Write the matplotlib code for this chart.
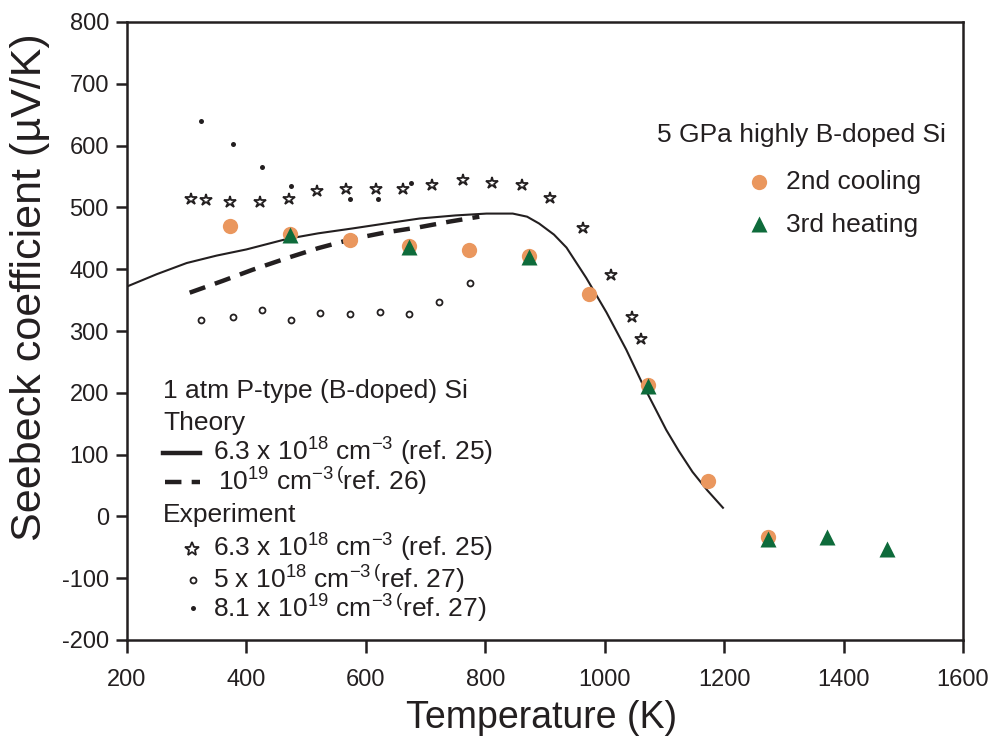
import matplotlib
matplotlib.use("Agg")
import matplotlib.pyplot as plt
from matplotlib.lines import Line2D

plt.rcParams['font.family'] = ['Liberation Sans', 'DejaVu Sans']
plt.rcParams['mathtext.fontset'] = 'custom'
plt.rcParams['mathtext.rm'] = 'Liberation Sans'
plt.rcParams['mathtext.it'] = 'Liberation Sans:italic'
plt.rcParams['mathtext.bf'] = 'Liberation Sans:bold'
plt.rcParams['axes.unicode_minus'] = False

# ---------------- data ----------------
# 5 GPa, 2nd cooling
cool_T = [373, 473, 573, 673, 773, 873, 973, 1073, 1173, 1273]
cool_S = [470, 457, 447, 438, 431, 422, 360, 212, 57, -33]
# 5 GPa, 3rd heating
heat_T = [473, 673, 873, 1073, 1273, 1373, 1473]
heat_S = [455, 436, 420, 211, -36, -33, -52]
# Theory 6.3e18 (ref. 25)
th1_T = [200, 250, 300, 350, 400, 468, 520, 578, 640, 690, 750, 802, 846, 870, 890, 915, 936,
         969, 1003, 1036, 1063, 1086, 1103, 1124, 1147, 1172, 1198]
th1_S = [372, 392, 410, 422, 432, 449, 458, 466, 475, 482, 487, 490, 490, 485, 474, 456, 435,
         386, 330, 270, 215, 172, 140, 106, 72, 42, 14]
# Theory 1e19 (ref. 26)
th2_T = [305, 360, 410, 468, 520, 578, 630, 690, 740, 790]
th2_S = [362, 381, 399, 418, 434, 449, 459, 468, 477, 485]
# Experiment 6.3e18 (ref. 25)
star_T = [307, 332, 372, 422, 471, 518, 566, 617, 663, 710, 762, 811, 861, 909, 963, 1010, 1045, 1061]
star_S = [514, 512, 508, 508, 514, 526, 529, 529, 529, 537, 544, 539, 537, 516, 467, 391, 323, 287]
# Experiment 5e18 (ref. 27)
oc_T = [324, 377, 426, 474, 524, 573, 623, 672, 722, 774]
oc_S = [318, 323, 334, 318, 329, 328, 331, 328, 347, 378]
# Experiment 8.1e19 (ref. 27)
dot_T = [324, 377, 426, 474, 573, 621, 675]
dot_S = [639, 602, 566, 534, 514, 514, 540]

xticks = [200, 400, 600, 800, 1000, 1200, 1400, 1600]
yticks = [-200, -100, 0, 100, 200, 300, 400, 500, 600, 700, 800]

ORANGE = '#EA975E'
GREEN = '#0E6B3B'
INK = '#231F20'

W, H = 995, 744
fig = plt.figure(figsize=(W / 100, H / 100), dpi=100)
L, R, T, B = 127, 963, 22, 640
ax = fig.add_axes([L / W, 1 - B / H, (R - L) / W, (B - T) / H])

ax.plot(th1_T, th1_S, '-', color=INK, lw=1.5, zorder=2)
ax.plot(th2_T, th2_S, '--', color=INK, lw=3.2, dashes=(3.7, 2.3), zorder=2)
ax.plot(star_T, star_S, '*', ls='none', ms=9, mfc='white', mec=INK, mew=1.3, zorder=3)
ax.plot(oc_T, oc_S, 'o', ls='none', ms=4.3, mfc='white', mec=INK, mew=1.3, zorder=3)
ax.plot(dot_T, dot_S, 'o', ls='none', ms=3.6, mfc=INK, mec=INK, mew=0, zorder=3)
ax.plot(cool_T, cool_S, 'o', ls='none', ms=11, mfc=ORANGE, mec='none', zorder=4)
ax.plot(heat_T, heat_S, '^', ls='none', ms=11.5, mfc=GREEN, mec='none', zorder=5)

ax.set_xlim(200, 1600)
ax.set_ylim(-200, 800)
ax.set_xticks(xticks)
ax.set_yticks(yticks)
for s in ax.spines.values():
    s.set_linewidth(1.8)
    s.set_color(INK)
ax.tick_params(axis='x', direction='out', length=9, width=1.8, color=INK,
               labelsize=17, labelcolor=INK, pad=12)
ax.tick_params(axis='y', direction='out', length=8, width=1.8, color=INK,
               labelsize=17, labelcolor=INK, pad=5)

ax.set_xlabel('Temperature (K)', fontsize=27, color=INK)
ax.xaxis.set_label_coords((542 - L) / (R - L), (640 - 718) / (B - T))
ax.xaxis.label.set_va('center')
ax.set_ylabel('Seebeck coefficient (\u00b5V/K)', fontsize=31, color=INK)
ax.yaxis.set_label_coords((30 - L) / (R - L), (640 - 287) / (B - T))
ax.yaxis.label.set_va('center')


# ---------------- legends (figure pixel coordinates) ----------------
def fx(px):
    return px / W


def fy(py):
    return 1 - py / H


def ftext(px, py, s, size=19):
    fig.text(fx(px), fy(py), s, fontsize=size, color=INK, ha='left', va='center')


def fline(x0, x1, py, **kw):
    fig.add_artist(Line2D([fx(x0), fx(x1)], [fy(py), fy(py)], transform=fig.transFigure, **kw))


def fmark(px, py, **kw):
    fig.add_artist(Line2D([fx(px)], [fy(py)], transform=fig.transFigure, ls='none', **kw))


ftext(163, 391, '1 atm P-type (B-doped) Si')
ftext(163, 423, 'Theory')
fline(163, 200, 453, color=INK, lw=3.2)
ftext(213, 452, r'6.3 x 10$^{18}$ cm$^{-3}$ (ref. 25)')
fline(165, 200, 482, color=INK, lw=3.2, dashes=(3.7, 2.3))
ftext(218, 481, r'10$^{19}$ cm$^{-3}$$^{\,(}$ref. 26)')
ftext(163, 515, 'Experiment')
fmark(192, 549, marker='*', ms=10, mfc='white', mec=INK, mew=1.3)
ftext(213, 548, r'6.3 x 10$^{18}$ cm$^{-3}$ (ref. 25)')
fmark(193, 580, marker='o', ms=4.3, mfc='white', mec=INK, mew=1.3)
ftext(213, 579, r'5 x 10$^{18}$ cm$^{-3}$$^{\,(}$ref. 27)')
fmark(193, 608, marker='o', ms=3.6, mfc=INK, mec=INK, mew=0)
ftext(213, 608, r'8.1 x 10$^{19}$ cm$^{-3}$$^{\,(}$ref. 27)')

ftext(657, 135, '5 GPa highly B-doped Si')
fmark(759, 182, marker='o', ms=11, mfc=ORANGE, mec='none')
ftext(786, 182, '2nd cooling')
fmark(759, 224, marker='^', ms=11.5, mfc=GREEN, mec='none')
ftext(786, 225, '3rd heating')

fig.savefig('out.png', dpi=100)
